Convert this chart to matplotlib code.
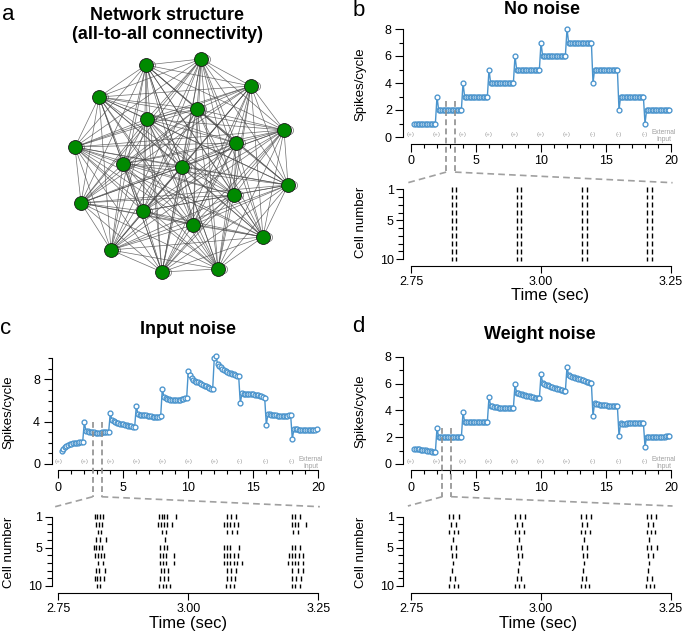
import numpy as np
import matplotlib.pyplot as plt
from matplotlib.collections import LineCollection
from matplotlib.lines import Line2D
from matplotlib.ticker import MultipleLocator, FixedLocator, FormatStrFormatter

plt.rcParams['font.family'] = ['Liberation Sans', 'DejaVu Sans']

W, H = 685, 635
blue = '#4a94cd'
gray = '#8f8f8f'

# network layout (a)
node_x = [146, 201, 251, 99, 197, 147, 284, 75, 236, 123, 182, 288, 81, 234, 143, 193, 263, 111, 162, 218]
node_y = [65, 59, 86, 97, 109, 119, 130, 147, 143, 164, 167, 185, 203, 195, 211, 225, 237, 250, 272, 269]

# external input steps
step_times = [0, 2, 4, 6, 8, 10, 12, 14, 16, 18]
input_signs = ['(+)', '(+)', '(+)', '(+)', '(+)', '(+)', '(+)', '(-)', '(-)', '(-)']
cycle = 0.125  # sec between points

# spikes/cycle, one list per 2 s input step
rate_no_noise = [
    [1] * 14,
    [3] + [2] * 15,
    [4] + [3] * 15,
    [5] + [4] * 15,
    [6] + [5] * 15,
    [7] + [6] * 15,
    [8] + [7] * 15,
    [4] + [5] * 15,
    [2] + [3] * 15,
    [1] + [2] * 15,
]
rate_input_noise = [
    [1.26, 1.45, 1.6, 1.7, 1.78, 1.85, 1.9, 1.95, 1.98, 2.0, 2.02, 2.04, 2.06, 2.08],
    [3.94, 3.12, 3.08, 3.05, 3.03, 3.0, 2.98, 2.97, 2.96, 2.96, 2.97, 2.98, 3.0, 3.02, 3.04, 3.05],
    [4.85, 4.15, 4.05, 3.98, 3.92, 3.87, 3.82, 3.78, 3.74, 3.7, 3.66, 3.62, 3.59, 3.56, 3.53, 3.5],
    [5.5, 4.72, 4.66, 4.63, 4.62, 4.61, 4.59, 4.57, 4.54, 4.51, 4.47, 4.44, 4.41, 4.4, 4.44, 4.5],
    [7.09, 6.36, 6.2, 6.15, 6.12, 6.1, 6.1, 6.09, 6.08, 6.08, 6.09, 6.1, 6.12, 6.15, 6.2, 6.27],
    [8.82, 8.38, 8.1, 7.98, 7.88, 7.8, 7.72, 7.65, 7.57, 7.5, 7.42, 7.35, 7.28, 7.2, 7.14, 7.09],
    [10.05, 10.2, 9.5, 9.3, 9.15, 9.0, 8.9, 8.8, 8.72, 8.65, 8.58, 8.52, 8.47, 8.42, 8.37, 8.31],
    [5.73, 6.68, 6.66, 6.65, 6.64, 6.63, 6.62, 6.6, 6.58, 6.56, 6.53, 6.5, 6.46, 6.42, 6.36, 6.27],
    [3.72, 4.72, 4.7, 4.68, 4.65, 4.62, 4.6, 4.58, 4.56, 4.55, 4.55, 4.56, 4.57, 4.58, 4.6, 4.6],
    [2.36, 3.3, 3.28, 3.27, 3.26, 3.25, 3.25, 3.24, 3.24, 3.23, 3.23, 3.22, 3.22, 3.23, 3.25, 3.3],
]
rate_weight_noise = [
    [1.15, 1.13, 1.11, 1.09, 1.07, 1.05, 1.03, 1.01, 0.99, 0.97, 0.95, 0.93, 0.91, 0.89],
    [2.71, 2.0, 1.99, 1.98, 1.98, 1.98, 1.98, 1.98, 1.99, 1.99, 1.99, 2.0, 2.0, 2.0, 2.01, 2.01],
    [3.85, 3.16, 3.14, 3.12, 3.11, 3.1, 3.1, 3.1, 3.1, 3.1, 3.11, 3.12, 3.13, 3.14, 3.15, 3.16],
    [5.02, 4.35, 4.3, 4.27, 4.25, 4.23, 4.21, 4.2, 4.19, 4.18, 4.17, 4.16, 4.16, 4.15, 4.15, 4.15],
    [5.96, 5.32, 5.28, 5.24, 5.2, 5.17, 5.14, 5.11, 5.08, 5.05, 5.02, 4.99, 4.96, 4.94, 4.91, 4.89],
    [6.68, 6.06, 5.99, 5.93, 5.88, 5.83, 5.78, 5.73, 5.69, 5.65, 5.61, 5.57, 5.54, 5.5, 5.47, 5.44],
    [7.25, 6.63, 6.57, 6.52, 6.47, 6.43, 6.39, 6.35, 6.31, 6.27, 6.23, 6.19, 6.15, 6.11, 6.06, 6.01],
    [3.58, 4.57, 4.5, 4.46, 4.43, 4.41, 4.39, 4.38, 4.37, 4.36, 4.35, 4.34, 4.34, 4.33, 4.33, 4.32],
    [2.11, 3.03, 3.02, 3.02, 3.02, 3.03, 3.03, 3.03, 3.04, 3.04, 3.05, 3.05, 3.06, 3.06, 3.07, 3.08],
    [1.29, 2.04, 2.03, 2.03, 2.03, 2.03, 2.04, 2.04, 2.04, 2.05, 2.05, 2.05, 2.05, 2.06, 2.06, 2.06],
]

# spike times (sec) of cells 1..10 in the 2.75-3.25 s window
spikes_no_noise = [[2.828, 2.837, 2.953, 2.962, 3.079, 3.088, 3.204, 3.213]] * 10
spikes_input_noise = [
    [2.820, 2.825, 2.830, 2.836, 2.944, 2.949, 2.954, 2.959, 2.976, 3.075, 3.083, 3.091, 3.199, 3.206, 3.214],
    [2.823, 2.829, 2.834, 2.942, 2.948, 2.953, 2.959, 2.968, 3.069, 3.075, 3.081, 3.088, 3.096, 3.199, 3.205, 3.211, 3.226],
    [2.826, 2.832, 2.949, 2.958, 3.075, 3.084, 3.093, 3.202, 3.210],
    [2.823, 2.831, 2.842, 2.955],
    [2.818, 2.823, 2.829, 2.834, 2.946, 2.953, 2.959, 3.069, 3.075, 3.081, 3.097, 3.199, 3.206, 3.214],
    [2.821, 2.827, 2.832, 2.838, 2.945, 2.951, 2.957, 2.972, 3.068, 3.074, 3.081, 3.087, 3.095, 3.193, 3.200, 3.206, 3.213, 3.220],
    [2.826, 2.836, 2.946, 2.952, 2.958, 2.973, 3.069, 3.075, 3.081, 3.088, 3.094, 3.104, 3.192, 3.199, 3.205, 3.211, 3.220],
    [2.823, 2.829, 2.839, 2.947, 2.954, 2.961, 3.075, 3.083, 3.092, 3.200, 3.210, 3.220],
    [2.820, 2.825, 2.830, 2.837, 2.946, 2.953, 2.960, 3.075, 3.082, 3.090, 3.200, 3.208, 3.217],
    [2.825, 2.831, 2.944, 2.951, 2.957, 2.964, 3.073, 3.081, 3.088, 3.199, 3.206, 3.214],
]
spikes_weight_noise = [
    [2.823, 2.830, 2.843, 2.950, 2.959, 2.969, 3.076, 3.086, 3.096, 3.203, 3.212, 3.222],
    [2.827, 2.836, 2.954, 2.964, 3.079, 3.089, 3.206, 3.215],
    [2.824, 2.833, 2.841, 2.950, 2.958, 2.967, 3.076, 3.085, 3.094, 3.203, 3.211, 3.220],
    [2.830, 2.957, 3.083, 3.208],
    [2.827, 2.836, 2.954, 2.962, 3.079, 3.088, 3.204, 3.211, 3.224],
    [2.829, 2.837, 2.955, 2.964, 3.081, 3.089, 3.206, 3.215],
    [2.830, 2.957, 3.083, 3.208],
    [2.829, 2.956, 3.081, 3.206],
    [2.825, 2.835, 2.953, 2.962, 3.078, 3.087, 3.203, 3.213],
    [2.823, 2.832, 2.840, 2.950, 2.958, 2.967, 3.076, 3.085, 3.093, 3.202, 3.210, 3.218],
]
cells = list(range(1, 11))

fig = plt.figure(figsize=(W / 100, H / 100), dpi=100)


def px_axes(left, top, right, bottom):
    return fig.add_axes([left / W, 1 - bottom / H, (right - left) / W, (bottom - top) / H])


def draw_rate(ax, segments, ytop, ybound, ymajor):
    t, r = [], []
    for k, seg in enumerate(segments):
        start = step_times[k] + cycle * (16 - len(seg))
        t.extend(start + cycle * np.arange(len(seg)))
        r.extend(seg)
    ax.plot(t, r, '-o', color=blue, lw=1.0, ms=3.5, mfc='white', mec=blue, mew=0.95,
            clip_on=False, zorder=3)
    ax.set_xlim(0, 20)
    ax.set_ylim(0, ytop)
    for s in ['top', 'right']:
        ax.spines[s].set_visible(False)
    ax.spines['left'].set_position(('outward', 5.5))
    ax.spines['bottom'].set_position(('outward', 5))
    ax.spines['left'].set_bounds(0, ybound)
    ax.spines['bottom'].set_bounds(0, 20)
    ax.xaxis.set_major_locator(MultipleLocator(5))
    ax.xaxis.set_minor_locator(MultipleLocator(1))
    ax.yaxis.set_major_locator(MultipleLocator(ymajor))
    ax.yaxis.set_minor_locator(MultipleLocator(1))
    ax.tick_params(which='major', length=5.8, width=0.8, labelsize=9, pad=2.5)
    ax.tick_params(which='minor', length=3.2, width=0.8)
    ax.set_ylabel('Spikes/cycle', fontsize=9.5)
    ax.yaxis.set_label_coords(-0.17, 0.47)
    for x, sign in zip(step_times, input_signs):
        ax.annotate(sign, (x, 0), xytext=(0, 1.5), textcoords='offset points',
                    ha='center', va='center', fontsize=4.6, color='#a0a0a0')
    ax.annotate('External\nInput', (19.45, 0), xytext=(0, 0.5), textcoords='offset points',
                ha='center', va='center', fontsize=4.8, color='#a0a0a0', linespacing=0.95)


def draw_raster(ax, spikes):
    coll = ax.eventplot(spikes, lineoffsets=cells, linelengths=0.62, linewidths=1.0, colors='black')
    for c in coll:
        c.set_clip_on(False)
    ax.set_xlim(2.75, 3.25)
    ax.set_ylim(10, 1)
    for s in ['top', 'right']:
        ax.spines[s].set_visible(False)
    ax.spines['left'].set_position(('outward', 5.5))
    ax.spines['bottom'].set_position(('outward', 5.2))
    ax.xaxis.set_major_locator(FixedLocator([2.75, 3.0, 3.25]))
    ax.xaxis.set_major_formatter(FormatStrFormatter('%.2f'))
    ax.yaxis.set_major_locator(FixedLocator([1, 5, 10]))
    ax.yaxis.set_minor_locator(FixedLocator(cells))
    ax.tick_params(which='major', length=5, width=0.8, labelsize=9, pad=2)
    ax.tick_params(which='minor', length=3.8, width=0.8)
    ax.set_ylabel('Cell number', fontsize=9.5)
    ax.set_xlabel('Time (sec)', fontsize=12)


def draw_zoom(ax_top, ax_ras, dash_x, dash_top, dash_bottom, conn_y):
    for x in dash_x:
        ax_top.plot([x, x], [dash_top, dash_bottom], ls=(0, (3.5, 2)), color=gray, lw=1.2,
                    clip_on=False, zorder=4)
    # zoom connectors from the window edges to the raster corners, in figure coords
    to_fig = fig.transFigure.inverted()
    for x_top, x_ras in zip(dash_x, (2.744, 3.253)):
        p0 = to_fig.transform(ax_top.transData.transform((x_top, dash_bottom)))
        p1 = to_fig.transform(ax_ras.transData.transform((x_ras, conn_y)))
        fig.add_artist(Line2D([p0[0], p1[0]], [p0[1], p1[1]], transform=fig.transFigure,
                              ls=(0, (4, 2.5)), color='#a0a0a0', lw=1.2))


# ---- a: network ----
ax_net = px_axes(40, 45, 320, 295)
ax_net.set_xlim(40, 320)
ax_net.set_ylim(295, 45)
ax_net.axis('off')
n = len(node_x)
edges = [[(node_x[i], node_y[i]), (node_x[j], node_y[j])] for i in range(n) for j in range(i + 1, n)]
ax_net.add_collection(LineCollection(edges, colors='#4a4a4a', linewidths=0.5, alpha=0.8, zorder=2))
ax_net.scatter(np.array(node_x) + 4.5, node_y, s=34, facecolor='white', edgecolor='#808080',
               linewidth=0.6, zorder=1)
ax_net.scatter(node_x, node_y, s=100, facecolor='#008a00', edgecolor='#1a1a1a', linewidth=0.6, zorder=3)

# ---- b: no noise ----
ax_b = px_axes(411, 23.6, 671, 137)
draw_rate(ax_b, rate_no_noise, 8.4, 8, 2)
ax_br = px_axes(411, 189.3, 671, 259)
draw_raster(ax_br, spikes_no_noise)
ax_br.yaxis.set_label_coords(-0.17, 0.52)
ax_br.xaxis.set_label_coords(0.535, -0.41)
draw_zoom(ax_b, ax_br, (2.7, 3.38), 2.7, -2.6, 0.15)

# ---- c: input noise ----
ax_c = px_axes(58.3, 353, 318.3, 464)
draw_rate(ax_c, rate_input_noise, 10.5, 10, 4)
ax_c.spines['left'].set_position(('outward', 4.8))
ax_c.spines['bottom'].set_position(('outward', 4.4))
ax_cr = px_axes(58.3, 516.7, 318.3, 586)
draw_raster(ax_cr, spikes_input_noise)
ax_cr.spines['left'].set_position(('outward', 4.8))
ax_cr.yaxis.set_label_coords(-0.167, 0.49)
ax_cr.xaxis.set_label_coords(0.5, -0.43)
draw_zoom(ax_c, ax_cr, (2.64, 3.33), 4.0, -3.1, -0.3)

# ---- d: weight noise ----
ax_d = px_axes(411, 351.4, 671, 464)
draw_rate(ax_d, rate_weight_noise, 8.4, 8, 2)
ax_d.spines['bottom'].set_position(('outward', 4.4))
ax_dr = px_axes(411, 516.7, 671, 586)
draw_raster(ax_dr, spikes_weight_noise)
ax_dr.yaxis.set_label_coords(-0.17, 0.49)
ax_dr.xaxis.set_label_coords(0.487, -0.43)
draw_zoom(ax_d, ax_dr, (2.41, 3.08), 2.66, -2.44, -0.39)

# ---- titles and panel letters ----
fig.text(167 / W, 1 - 25 / H, 'Network structure\n(all-to-all connectivity)', ha='center', va='center',
         fontsize=13, fontweight='bold', linespacing=1.1)
fig.text(541.7 / W, 1 - 9.5 / H, 'No noise', ha='center', va='center', fontsize=13, fontweight='bold')
fig.text(188.3 / W, 1 - 330 / H, 'Input noise', ha='center', va='center', fontsize=13, fontweight='bold')
fig.text(540 / W, 1 - 335 / H, 'Weight noise', ha='center', va='center', fontsize=13, fontweight='bold')
for letter, x, y in [('a', 8, 14), ('b', 359, 10), ('c', 6, 328), ('d', 358, 327)]:
    fig.text(x / W, 1 - y / H, letter, ha='center', va='center', fontsize=16)

fig.savefig('out.png', dpi=100)
